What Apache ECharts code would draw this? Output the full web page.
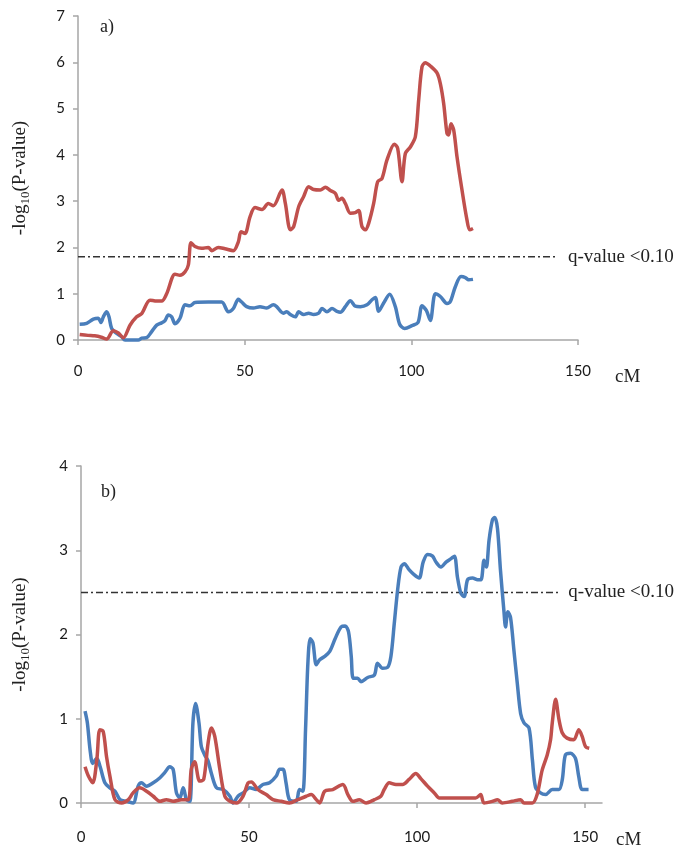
<!DOCTYPE html>
<html>
<head>
<meta charset="utf-8">
<script src="https://cdn.jsdelivr.net/npm/echarts@6/dist/echarts.min.js"></script>
<style>
html,body{margin:0;padding:0;background:#fff;}
#c{width:685px;height:854px;}
</style>
</head>
<body>
<div id="c"></div>
<script>
// ---- Data (cM, -log10 P) ----
const panelLabels = ['a)', 'b)'];
const xTicks = [0, 50, 100, 150];
const qLabel = 'q-value <0.10';

const redA = [[0.5,0.12],[3,0.1],[5,0.09],[7,0.06],[8.6,0.02],[10.6,0.2],[12.1,0.15],[13.6,0.05],[15.6,0.32],[17.6,0.5],[19.1,0.57],[21.6,0.86],[23.6,0.84],[25.1,0.84],[26.6,1.0],[29.1,1.42],[30.6,1.4],[32.1,1.47],[33.1,1.62],[33.9,2.1],[35.1,2.02],[37.1,1.98],[39.1,2.0],[40.1,1.93],[42.1,2.0],[44.1,1.97],[46.6,1.93],[48.1,2.12],[48.9,2.34],[50.1,2.3],[51.6,2.66],[53.1,2.86],[55.2,2.82],[57.1,2.95],[58.6,2.9],[61.2,3.24],[62.2,2.95],[63.7,2.38],[64.7,2.45],[66.2,2.88],[67.7,3.1],[69.2,3.31],[70.7,3.25],[72.7,3.24],[74.2,3.3],[75.7,3.23],[77.2,3.17],[78.2,3.02],[79.2,3.06],[80.2,2.95],[81.7,2.74],[83.2,2.75],[84.2,2.8],[85.2,2.45],[86.2,2.38],[87.2,2.52],[88.7,2.95],[89.9,3.42],[91.2,3.49],[92.7,3.89],[94.9,4.23],[95.9,4.14],[97.2,3.42],[98.2,4.03],[99.7,4.17],[101.2,4.39],[102.2,5.18],[103.2,5.9],[104.2,5.99],[105.7,5.92],[107.7,5.77],[108.7,5.54],[109.7,5.11],[110.7,4.46],[111.2,4.43],[111.9,4.67],[112.7,4.54],[113.7,3.96],[115.2,3.24],[116.7,2.59],[117.5,2.38],[118.5,2.41]];

const blueA = [[0.5,0.34],[2.6,0.36],[4.6,0.45],[6.1,0.47],[6.9,0.38],[7.6,0.5],[8.6,0.61],[9.3,0.5],[10.1,0.25],[11.6,0.14],[13.1,0.07],[14.1,0],[18.1,0],[19.1,0.04],[20.6,0.05],[22.1,0.18],[23.6,0.32],[25.1,0.37],[26.1,0.42],[27.1,0.54],[28.1,0.5],[29.1,0.35],[30.6,0.47],[32.1,0.76],[33.6,0.74],[35.1,0.81],[39.1,0.82],[43.1,0.82],[45.1,0.61],[46.6,0.68],[48.1,0.88],[49.1,0.82],[50.6,0.72],[52.6,0.69],[54.6,0.72],[56.6,0.69],[58.6,0.76],[59.6,0.72],[61.6,0.58],[62.6,0.61],[63.7,0.55],[65.2,0.5],[66.2,0.61],[67.7,0.55],[69.2,0.58],[70.7,0.55],[72.2,0.58],[73.2,0.68],[74.7,0.61],[76.2,0.68],[77.7,0.62],[78.7,0.6],[80.2,0.72],[81.7,0.85],[83.2,0.73],[84.7,0.72],[86.7,0.76],[88.2,0.87],[89.2,0.92],[90.2,0.62],[91.7,0.8],[93.5,0.99],[95.2,0.72],[96.5,0.34],[98,0.25],[100.2,0.31],[102,0.38],[103.2,0.74],[104.5,0.64],[105.7,0.42],[107.2,1.0],[108.7,0.94],[110.7,0.79],[111.7,0.83],[113.2,1.15],[114.9,1.37],[116.2,1.35],[117.2,1.3],[118.5,1.31]];

const blueB = [[1.2,1.09],[1.9,0.95],[2.7,0.63],[3.5,0.47],[4.7,0.53],[5.7,0.43],[7.1,0.24],[8.6,0.18],[10.1,0.14],[11.6,0.04],[13.6,0.02],[15.5,0],[17,0.2],[18,0.24],[19.5,0.2],[21.5,0.24],[23.5,0.3],[24.9,0.36],[26.4,0.43],[27.4,0.4],[28.4,0.12],[29.4,0.06],[30.4,0.18],[31.4,0.04],[32.4,0.02],[33.3,0.95],[34.1,1.18],[35.1,0.95],[35.8,0.67],[36.8,0.57],[37.8,0.5],[38.8,0.35],[40.3,0.18],[42.3,0.16],[44.3,0.08],[45.2,0],[46.7,0.08],[48.2,0.12],[50.2,0.18],[52.1,0.16],[54.1,0.22],[56.1,0.24],[58.1,0.32],[59.1,0.4],[60.1,0.4],[61,0.24],[62,0.04],[64,0.02],[65,0.16],[66,0.14],[66.8,0.87],[67.5,1.66],[68.2,1.95],[69,1.9],[70,1.64],[71,1.7],[72.5,1.74],[74,1.8],[75.6,1.95],[77.4,2.09],[78.6,2.1],[79.6,2.03],[80.4,1.74],[81,1.48],[82.3,1.48],[83.3,1.44],[85.3,1.49],[87.3,1.52],[88.2,1.66],[89.7,1.6],[91.2,1.61],[92.2,1.74],[93.2,2.13],[94.2,2.53],[95.2,2.8],[96.2,2.84],[97.6,2.77],[99.1,2.71],[100.6,2.67],[101.8,2.86],[103.1,2.95],[104.6,2.93],[105.6,2.86],[107.1,2.8],[108.6,2.86],[110.1,2.9],[111.1,2.93],[112,2.68],[113,2.49],[114,2.45],[115,2.65],[116.5,2.67],[118,2.65],[119,2.65],[119.9,2.88],[120.6,2.8],[121.4,3.12],[122.4,3.36],[123.1,3.39],[123.9,3.26],[124.8,2.76],[125.8,2.29],[126.3,2.09],[127,2.27],[127.8,2.2],[128.8,1.81],[129.8,1.42],[130.8,1.06],[131.8,0.95],[133.3,0.89],[134.3,0.51],[135.2,0.19],[136.7,0.12],[138.2,0.1],[140.2,0.16],[142.2,0.16],[143.2,0.28],[144.1,0.57],[145.6,0.59],[147.1,0.53],[148.1,0.31],[149.1,0.16],[151,0.16]];

const redB = [[1.2,0.43],[2.2,0.32],[3.5,0.24],[4.7,0.51],[5.6,0.87],[6.6,0.85],[7.6,0.55],[8.6,0.32],[10.1,0.04],[12.1,0],[14.1,0.04],[15.5,0.12],[17.5,0.18],[19.5,0.14],[21.5,0.08],[23.5,0.02],[25.4,0.04],[27.4,0.02],[29.9,0.04],[31.9,0.04],[32.8,0.4],[33.8,0.49],[35.3,0.26],[36.5,0.28],[37.8,0.71],[38.8,0.89],[39.8,0.79],[41.3,0.4],[42.8,0.08],[44.3,0.02],[46.2,0],[48.2,0.08],[49.7,0.24],[50.7,0.25],[52.6,0.16],[55.1,0.1],[57.1,0.04],[59.6,0.02],[62,0],[64.5,0.04],[67,0.08],[68.5,0.1],[70,0.04],[71,0],[72.5,0.14],[74.9,0.16],[77.9,0.22],[79.4,0.1],[80.9,0.02],[82.8,0.04],[84.8,0],[87.3,0.04],[89.2,0.08],[90.2,0.16],[91.7,0.24],[93.7,0.22],[95.7,0.22],[97.6,0.28],[99.6,0.35],[101.1,0.29],[103.1,0.2],[105.1,0.12],[106.6,0.06],[109.5,0.06],[113.5,0.06],[117.4,0.06],[118.9,0.1],[119.9,0],[122.4,0.02],[123.9,0.04],[125.3,0],[128.3,0.02],[130.8,0.04],[131.8,0],[134.3,0],[135.7,0.1],[137.2,0.39],[138.7,0.57],[139.7,0.75],[140.2,0.95],[141.2,1.23],[142.2,0.99],[143.2,0.83],[144.6,0.77],[146.6,0.75],[148.1,0.87],[149.1,0.79],[150.1,0.67],[151.2,0.65]];

const qLineA = [[0,1.8],[144,1.8]];
const qLineB = [[0,2.5],[142,2.5]];

// ---- Styling ----
const RED = '#C0504D';
const BLUE = '#4A7EBB';
const AXIS = '#A6A6A6';
const SERIF = 'Liberation Serif';
const SANS = 'Lato';

function xAxisCfg(gridIndex, max, margin, nameGap) {
  return {
    type: 'value', gridIndex, min: 0, max, interval: 50,
    axisLine: {lineStyle: {color: AXIS, width: 1.5}},
    axisTick: {show: true, length: 5, lineStyle: {color: AXIS, width: 1.5}, customValues: xTicks},
    axisLabel: {customValues: xTicks, margin, fontFamily: SANS, fontSize: 15, color: '#1a1a1a'},
    splitLine: {show: false},
    name: 'cM', nameLocation: 'end', nameGap,
    nameTextStyle: {fontFamily: SERIF, fontSize: 19, color: '#222', verticalAlign: 'top', align: 'left', padding: [28, 0, 0, 0]}
  };
}
function yAxisCfg(gridIndex, max, nameGap) {
  return {
    type: 'value', gridIndex, min: 0, max, interval: 1,
    axisLine: {show: true, lineStyle: {color: AXIS, width: 1.5}},
    axisTick: {show: true, length: 5, lineStyle: {color: AXIS, width: 1.5}},
    axisLabel: {margin: 13, fontFamily: SANS, fontSize: 15, color: '#1a1a1a'},
    splitLine: {show: false},
    name: '-log{s|10}(P-value)', nameLocation: 'middle', nameRotate: 90, nameGap,
    nameTextStyle: {fontFamily: SERIF, fontSize: 19, color: '#222',
      rich: {s: {fontFamily: SERIF, fontSize: 13, color: '#222', padding: [10, 0, 0, 0]}}}
  };
}
function lineSeries(data, color, xi) {
  return {type: 'line', data, xAxisIndex: xi, yAxisIndex: xi, showSymbol: false, symbol: 'none',
    smooth: 0.3, clip: false, lineStyle: {color, width: 3.5}, itemStyle: {color}, z: 3};
}
function qSeries(data, xi) {
  return {type: 'line', data, xAxisIndex: xi, yAxisIndex: xi, symbol: 'none', showSymbol: false, z: 2,
    lineStyle: {color: '#333', width: 1.5, type: [7, 3, 2, 3]}, itemStyle: {color: '#333'},
    endLabel: {show: true, formatter: qLabel, distance: 10, fontFamily: SERIF, fontSize: 19, color: '#222'}};
}

const chart = echarts.init(document.getElementById('c'), null, {renderer: 'canvas'});
chart.setOption({
  backgroundColor: '#fff',
  animation: false,
  title: [
    {text: panelLabels[0], left: 95, top: 13, textStyle: {fontFamily: SERIF, fontSize: 18, fontWeight: 'normal', color: '#222'}},
    {text: panelLabels[1], left: 96, top: 478, textStyle: {fontFamily: SERIF, fontSize: 18, fontWeight: 'normal', color: '#222'}}
  ],
  grid: [
    {left: 78, top: 16, width: 500, height: 324},
    {left: 81, top: 466, width: 521, height: 337}
  ],
  xAxis: [xAxisCfg(0, 150, 24, 37), xAxisCfg(1, 155, 27, 14)],
  yAxis: [yAxisCfg(0, 7, 46), yAxisCfg(1, 4, 49)],
  series: [
    qSeries(qLineA, 0),
    lineSeries(blueA, BLUE, 0),
    lineSeries(redA, RED, 0),
    qSeries(qLineB, 1),
    lineSeries(blueB, BLUE, 1),
    lineSeries(redB, RED, 1)
  ]
});
</script>
</body>
</html>
